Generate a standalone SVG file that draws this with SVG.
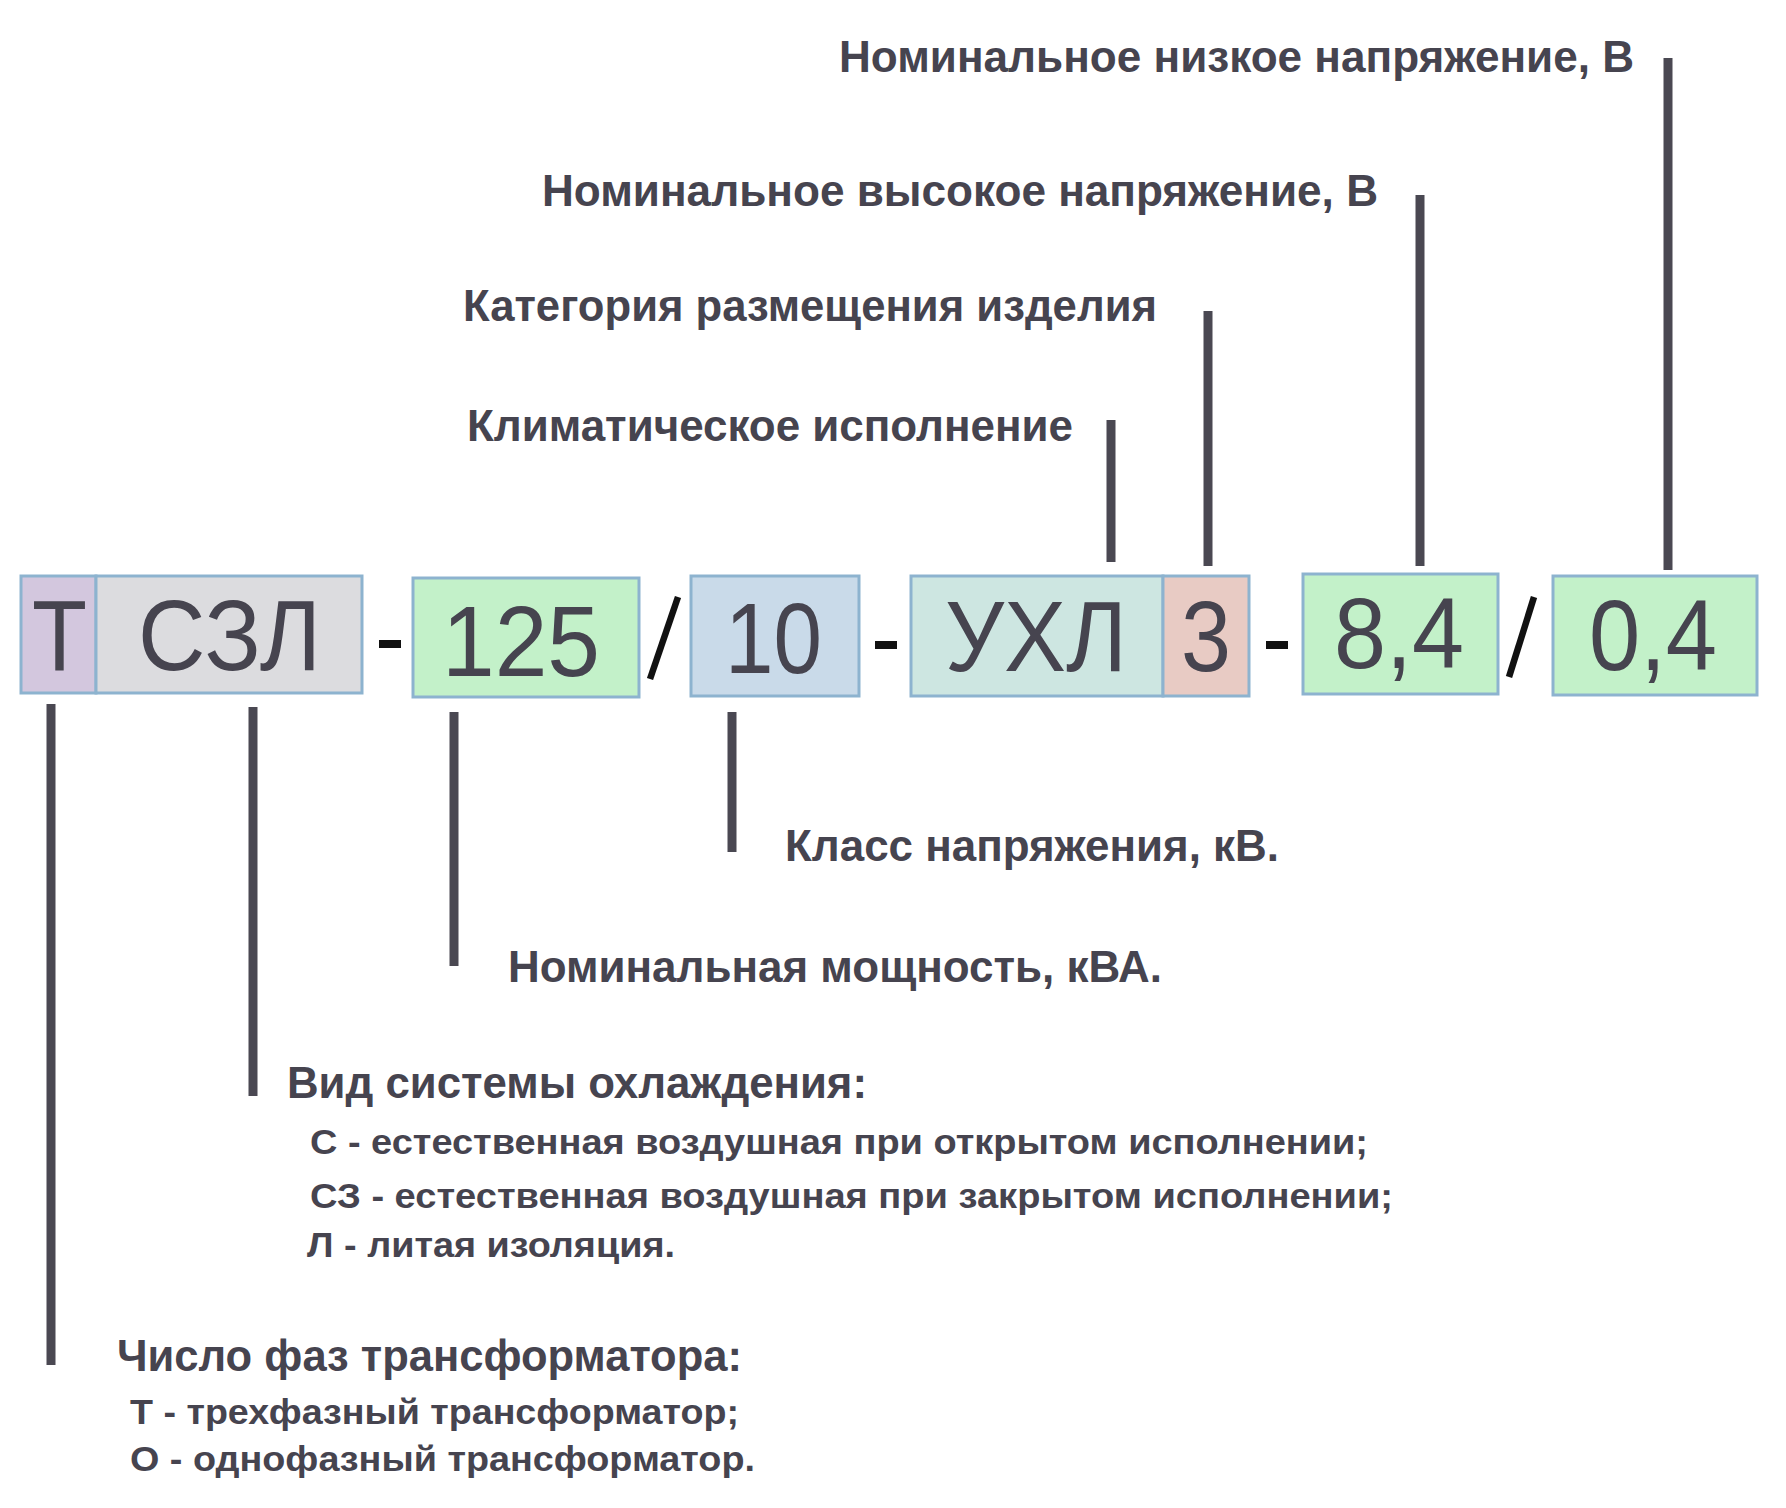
<svg xmlns="http://www.w3.org/2000/svg" width="1786" height="1508" viewBox="0 0 1786 1508">
<style>
.box{stroke:#8db3cf;stroke-width:3}
.big{font-family:"Liberation Sans",Arial,sans-serif;font-size:100px;fill:#46444f}
.lbl{font-family:"Liberation Sans",Arial,sans-serif;font-weight:bold;font-size:44px;fill:#46444f}
.sub{font-family:"Liberation Sans",Arial,sans-serif;font-weight:bold;font-size:35px;fill:#46444f}
.ln{stroke:#4a4852;stroke-width:9;fill:none}
.sep{fill:#111}
.sl{stroke:#111;stroke-width:6.5}
</style>
<rect width="1786" height="1508" fill="#ffffff"/>
<g id="n-T"><rect class="box" x="21" y="576" width="75" height="117" fill="#d3c7de"/><text class="big" x="32" y="670" textLength="55" lengthAdjust="spacingAndGlyphs">Т</text></g>
<g id="n-SZL"><rect class="box" x="96" y="576" width="266" height="117" fill="#dcdcdf"/><text class="big" x="138" y="670" textLength="183" lengthAdjust="spacingAndGlyphs">СЗЛ</text></g>
<g id="n-125"><rect class="box" x="413" y="578" width="226" height="119" fill="#c3f1c9"/><text class="big" x="442" y="676" font-size="108" textLength="158" lengthAdjust="spacingAndGlyphs">125</text></g>
<g id="n-10"><rect class="box" x="691" y="576" width="168" height="120" fill="#c9dae9"/><text class="big" x="725" y="673" textLength="97" lengthAdjust="spacingAndGlyphs">10</text></g>
<g id="n-UHL"><rect class="box" x="911" y="576" width="252" height="120" fill="#cde6e1"/><text class="big" x="945" y="671" textLength="182" lengthAdjust="spacingAndGlyphs">УХЛ</text></g>
<g id="n-3"><rect class="box" x="1163" y="576" width="86" height="120" fill="#e8cbc4"/><text class="big" x="1181" y="671" textLength="50" lengthAdjust="spacingAndGlyphs">3</text></g>
<g id="n-84"><rect class="box" x="1303" y="574" width="195" height="120" fill="#c3f1c9"/><text class="big" x="1334" y="668" textLength="130" lengthAdjust="spacingAndGlyphs">8,4</text></g>
<g id="n-04"><rect class="box" x="1553" y="576" width="204" height="119" fill="#c3f1c9"/><text class="big" x="1589" y="670" textLength="128" lengthAdjust="spacingAndGlyphs">0,4</text></g>
<g id="separators">
<rect class="sep" x="379" y="640" width="22" height="8"/>
<rect class="sep" x="875" y="641" width="22" height="8"/>
<rect class="sep" x="1266" y="641" width="22" height="8"/>
<line class="sl" x1="678" y1="597" x2="650" y2="679"/>
<line class="sl" x1="1534" y1="597" x2="1509" y2="677"/>
</g>
<g id="connectors">
<line class="ln" x1="51" y1="704" x2="51" y2="1365"/>
<line class="ln" x1="253" y1="707" x2="253" y2="1096"/>
<line class="ln" x1="454" y1="712" x2="454" y2="966"/>
<line class="ln" x1="732" y1="712" x2="732" y2="852"/>
<line class="ln" x1="1111" y1="420" x2="1111" y2="562"/>
<line class="ln" x1="1208" y1="311" x2="1208" y2="566"/>
<line class="ln" x1="1420" y1="195" x2="1420" y2="566"/>
<line class="ln" x1="1668" y1="58" x2="1668" y2="570"/>
</g>
<g id="l-low"><text class="lbl" x="839" y="72" textLength="795" lengthAdjust="spacingAndGlyphs">Номинальное низкое напряжение, В</text></g>
<g id="l-high"><text class="lbl" x="542" y="206" textLength="836" lengthAdjust="spacingAndGlyphs">Номинальное высокое напряжение, В</text></g>
<g id="l-cat"><text class="lbl" x="463" y="321" textLength="694" lengthAdjust="spacingAndGlyphs">Категория размещения изделия</text></g>
<g id="l-clim"><text class="lbl" x="467" y="441" textLength="606" lengthAdjust="spacingAndGlyphs">Климатическое исполнение</text></g>
<g id="l-class"><text class="lbl" x="785" y="861" textLength="494" lengthAdjust="spacingAndGlyphs">Класс напряжения, кВ.</text></g>
<g id="l-power"><text class="lbl" x="508" y="982" textLength="654" lengthAdjust="spacingAndGlyphs">Номинальная мощность, кВА.</text></g>
<g id="l-cool">
<text class="lbl" x="287" y="1098" textLength="580" lengthAdjust="spacingAndGlyphs">Вид системы охлаждения:</text>
<text class="sub" x="310" y="1154" textLength="1058" lengthAdjust="spacingAndGlyphs">С - естественная воздушная при открытом исполнении;</text>
<text class="sub" x="310" y="1208" textLength="1083" lengthAdjust="spacingAndGlyphs">СЗ - естественная воздушная при закрытом исполнении;</text>
<text class="sub" x="307" y="1257" textLength="368" lengthAdjust="spacingAndGlyphs">Л - литая изоляция.</text>
</g>
<g id="l-phase">
<text class="lbl" x="117" y="1371" textLength="625" lengthAdjust="spacingAndGlyphs">Число фаз трансформатора:</text>
<text class="sub" x="130" y="1424" textLength="609" lengthAdjust="spacingAndGlyphs">Т - трехфазный трансформатор;</text>
<text class="sub" x="130" y="1471" textLength="625" lengthAdjust="spacingAndGlyphs">О - однофазный трансформатор.</text>
</g>
</svg>
